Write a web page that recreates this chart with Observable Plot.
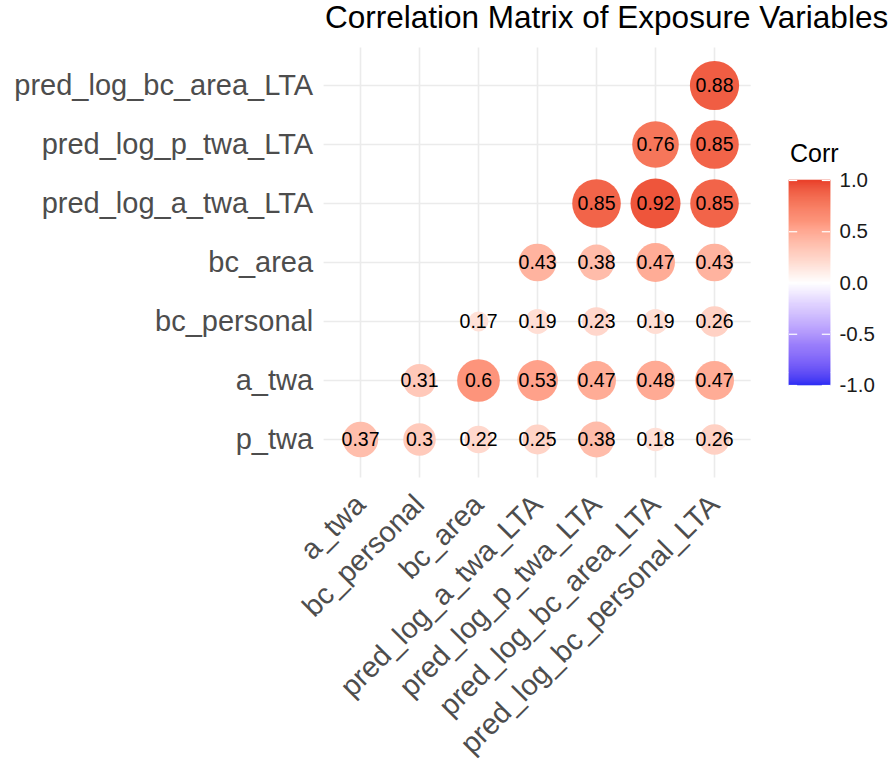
<!DOCTYPE html>
<html>
<head>
<meta charset="utf-8">
<script src="https://cdn.jsdelivr.net/npm/d3@7"></script>
<script src="https://cdn.jsdelivr.net/npm/@observablehq/plot@0.6"></script>
<style>
  html, body { margin: 0; padding: 0; background: #ffffff; }
  body { font-family: "Liberation Sans", Arial, Helvetica, sans-serif; }
  #wrap { position: relative; width: 892px; height: 759px; overflow: hidden; }
  .layer { position: absolute; left: 0; top: 0; }
  #title { position: absolute; left: 325px; top: 2px; font-size: 31.5px; line-height: 31px; color: #000; white-space: nowrap; }
  #legtitle { position: absolute; left: 790px; top: 140px; font-size: 25px; line-height: 26px; color: #000; }
</style>
</head>
<body>
<div id="wrap">
  <div id="title">Correlation Matrix of Exposure Variables</div>
  <div id="legtitle">Corr</div>
</div>
<script>
// Row variables (bottom to top) and column variables (left to right)
const rowVars = ["p_twa", "a_twa", "bc_personal", "bc_area", "pred_log_a_twa_LTA", "pred_log_p_twa_LTA", "pred_log_bc_area_LTA"];
const colVars = ["a_twa", "bc_personal", "bc_area", "pred_log_a_twa_LTA", "pred_log_p_twa_LTA", "pred_log_bc_area_LTA", "pred_log_bc_personal_LTA"];

// Correlation values by row (null = not shown)
const row_p_twa = [0.37, 0.3, 0.22, 0.25, 0.38, 0.18, 0.26];
const row_a_twa = [null, 0.31, 0.6, 0.53, 0.47, 0.48, 0.47];
const row_bc_personal = [null, null, 0.17, 0.19, 0.23, 0.19, 0.26];
const row_bc_area = [null, null, null, 0.43, 0.38, 0.47, 0.43];
const row_pred_log_a_twa_LTA = [null, null, null, null, 0.85, 0.92, 0.85];
const row_pred_log_p_twa_LTA = [null, null, null, null, null, 0.76, 0.85];
const row_pred_log_bc_area_LTA = [null, null, null, null, null, null, 0.88];

const legendTicks = [-1, -0.5, 0, 0.5, 1];
const lowColor = "#2b2ef3", midColor = "#ffffff", highColor = "#e9412b";

const rowValues = [row_p_twa, row_a_twa, row_bc_personal, row_bc_area,
  row_pred_log_a_twa_LTA, row_pred_log_p_twa_LTA, row_pred_log_bc_area_LTA];

const cells = [];
rowValues.forEach((vals, i) => {
  vals.forEach((v, j) => {
    if (v !== null) cells.push({row: rowVars[i], col: colVars[j], v});
  });
});
const minAbs = d3.min(cells, d => Math.abs(d.v));
const maxAbs = d3.max(cells, d => Math.abs(d.v));

const colorScale = {type: "linear", domain: [-1, 0, 1], range: [lowColor, midColor, highColor], interpolate: "lab"};
const font = '"Liberation Sans", Arial, Helvetica, sans-serif';

const W = 892, H = 759;
const main = Plot.plot({
  width: W, height: H,
  marginLeft: 323.6, marginRight: 141.3, marginTop: 47.6, marginBottom: 281.6,
  style: {fontFamily: font, background: "transparent", overflow: "visible"},
  x: {type: "point", domain: colVars, padding: 0.6, label: null},
  y: {type: "point", domain: rowVars.slice().reverse(), padding: 0.6, label: null},
  color: colorScale,
  r: {type: "sqrt", domain: [0, maxAbs - minAbs], range: [10, 25]},
  marks: [
    Plot.gridX({stroke: "#ebebeb", strokeOpacity: 1, strokeWidth: 1.6}),
    Plot.gridY({stroke: "#ebebeb", strokeOpacity: 1, strokeWidth: 1.6}),
    Plot.dot(cells, {x: "col", y: "row", r: d => Math.abs(d.v) - minAbs + 1e-9, fill: "v", stroke: "none"}),
    Plot.text(cells, {x: "col", y: "row", text: d => String(d.v), fontSize: 19.5, fill: "#000"}),
    Plot.axisY({tickSize: 0, tickPadding: 11, fontSize: 29, fill: "#4d4d4d", label: null}),
    Plot.axisX({tickSize: 0, tickRotate: -45, tickPadding: 10, dy: 12, fontSize: 29, fill: "#4d4d4d", label: null})
  ]
});
main.classList.add("layer");

// Vertical colour bar legend
const step = 0.01;
const steps = d3.range(-1, 1 - step / 2, step);
const legend = Plot.plot({
  width: W, height: H,
  marginLeft: 789, marginRight: W - 830, marginTop: 180, marginBottom: H - 385,
  style: {fontFamily: font, background: "transparent", overflow: "visible"},
  x: {domain: [0, 1], axis: null},
  y: {domain: [-1, 1], axis: null},
  color: colorScale,
  marks: [
    Plot.rect(steps, {x1: 0, x2: 1, y1: d => d, y2: d => d + step, fill: d => d + step / 2, stroke: d => d + step / 2, strokeWidth: 0.6}),
    Plot.ruleY(legendTicks, {x1: 0, x2: 0.2, stroke: "#ffffff", strokeWidth: 1.2}),
    Plot.ruleY(legendTicks, {x1: 0.8, x2: 1, stroke: "#ffffff", strokeWidth: 1.2}),
    Plot.axisY({anchor: "right", ticks: legendTicks, tickFormat: d => d.toFixed(1), tickSize: 0, tickPadding: 9, fontSize: 20.5, fill: "#1a1a1a", label: null})
  ]
});
legend.classList.add("layer");

const wrap = document.getElementById("wrap");
wrap.appendChild(main);
wrap.appendChild(legend);
</script>
</body>
</html>
